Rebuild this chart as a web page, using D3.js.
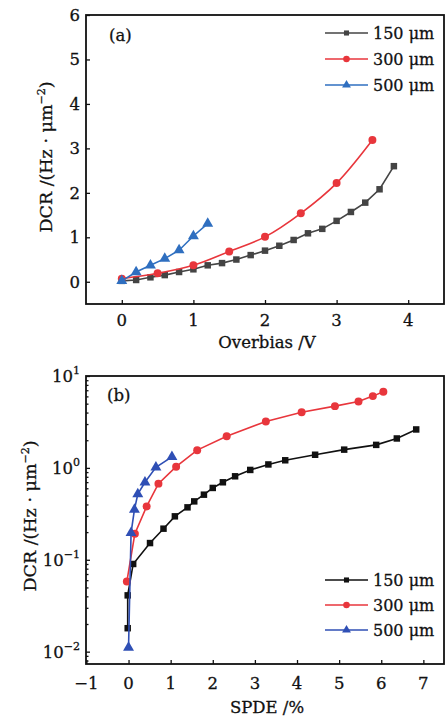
<!DOCTYPE html>
<html><head><meta charset="utf-8">
<script src="https://cdn.jsdelivr.net/npm/d3@7"></script>
<style>
html,body{margin:0;padding:0;background:#fff;}
svg text{font-family:"DejaVu Serif",serif;fill:#111;stroke:#111;stroke-width:0.3;}
</style></head>
<body><svg id="c" width="446" height="717"></svg>
<script>
// ---------- data ----------
const seriesNames = ["150 μm", "300 μm", "500 μm"];
// Panel (a): Overbias (V) vs DCR
const a150x = [0,0.2,0.4,0.6,0.8,1.0,1.2,1.4,1.6,1.8,2.0,2.2,2.4,2.6,2.8,3.0,3.2,3.4,3.6,3.8];
const a150y = [0.02,0.04,0.10,0.15,0.22,0.28,0.37,0.42,0.50,0.60,0.70,0.81,0.94,1.09,1.19,1.37,1.57,1.78,2.08,2.60];
const a300x = [0,0.5,1.0,1.5,2.0,2.5,3.0,3.5];
const a300y = [0.07,0.19,0.37,0.68,1.01,1.54,2.22,3.19];
const a500x = [0,0.2,0.4,0.6,0.8,1.0,1.2];
const a500y = [0.02,0.22,0.37,0.52,0.71,1.03,1.31];
// Panel (b): SPDE (%) vs DCR (log)
const b150x = [-0.02,-0.02,0.11,0.51,0.83,1.10,1.40,1.56,1.79,2.00,2.24,2.53,2.89,3.32,3.72,4.43,5.12,5.88,6.37,6.83];
const b150y = [0.018,0.041,0.090,0.152,0.218,0.297,0.372,0.432,0.511,0.605,0.697,0.81,0.95,1.09,1.21,1.39,1.58,1.78,2.09,2.62];
const b300x = [-0.04,0.15,0.43,0.71,1.13,1.63,2.33,3.26,4.11,4.90,5.46,5.80,6.05];
const b300y = [0.058,0.192,0.381,0.674,1.03,1.56,2.21,3.20,4.04,4.70,5.28,6.04,6.75];
const b500x = [0.0,0.06,0.14,0.22,0.39,0.65,1.03];
const b500y = [0.0111,0.196,0.351,0.52,0.697,1.016,1.32];
const aXTicks = [0,1,2,3,4];
const aYTicks = [0,1,2,3,4,5,6];
const bXTicks = [-1,0,1,2,3,4,5,6,7];
const bYTicks = [0.01,0.1,1,10];
const bYExp = ["−2","−1","0","1"];

const colorsA = ["#444444","#e8363c","#2f6fc0"];
const colorsB = ["#111111","#e8363c","#2f4fb5"];
const shapes = [d3.symbolSquare, d3.symbolCircle, d3.symbolTriangle];

const svg = d3.select("#c");
const L = 86, R = 444;

function drawPanel(o){
  const g = svg.append("g");
  const x = o.x, y = o.y;
  const [y0,y1] = y.range(); // bottom, top
  g.append("g").attr("transform",`translate(0,${y0})`)
    .call(d3.axisTop(x).tickValues(o.xTicks).tickSize(4).tickFormat(""));
  g.append("g").attr("transform",`translate(${L},0)`)
    .call(d3.axisRight(y).tickValues(o.yTicks).tickSize(4).tickFormat(""));
  if (o.minor) {
    g.append("g").attr("transform",`translate(${L},0)`)
      .call(d3.axisRight(y).tickValues(o.minor).tickSize(2.5).tickFormat(""));
  }
  g.selectAll(".domain").remove();
  g.selectAll(".tick line").attr("stroke","#111").attr("stroke-width",1.3);
  g.append("rect").attr("x",L).attr("y",y1).attr("width",R-L).attr("height",y0-y1)
    .attr("fill","none").attr("stroke","#111").attr("stroke-width",1.8);
  g.selectAll(".xl").data(o.xTicks).enter().append("text")
    .attr("x",d=>x(d)).attr("y",y0+o.xlabOff).attr("text-anchor","middle")
    .attr("font-size",16.5).text(d=>d<0?"−"+Math.abs(d):d);
  o.yLabel(g, y);
  o.series.forEach((s,i)=>{
    const pts = s.xs.map((v,k)=>[v,s.ys[k]]);
    const line = d3.line().x(d=>x(d[0])).y(d=>y(d[1])).curve(s.smooth?d3.curveCatmullRom:d3.curveLinear);
    g.append("path").datum(pts).attr("d",line).attr("fill","none")
      .attr("stroke",o.colors[i]).attr("stroke-width",1.6);
    g.selectAll(".m"+i).data(pts).enter().append("path")
      .attr("transform",d=>`translate(${x(d[0])},${y(d[1])})`)
      .attr("d",d3.symbol().type(shapes[i]).size(i===2?52:i===1?50:42))
      .attr("fill",o.colors[i]);
  });
  o.legY.forEach((ly,i)=>{
    g.append("line").attr("x1",325).attr("x2",368).attr("y1",ly).attr("y2",ly)
      .attr("stroke",o.colors[i]).attr("stroke-width",1.6);
    g.append("path").attr("transform",`translate(346.5,${ly})`)
      .attr("d",d3.symbol().type(shapes[i]).size(i===2?34:i===1?34:26)).attr("fill",o.colors[i]);
    g.append("text").attr("x",373).attr("y",ly+6).attr("font-size",16).text(seriesNames[i]);
  });
  g.append("text").attr("x",o.tag[0]).attr("y",o.tag[1]).attr("font-size",16.5).text(o.tagText);
  g.append("text").attr("x",267).attr("y",o.xt).attr("text-anchor","middle").attr("font-size",16.5).text(o.xTitle);
  const yt = g.append("text").attr("transform",`translate(${o.yt[0]},${o.yt[1]}) rotate(-90)`)
    .attr("text-anchor","middle").attr("font-size",17.5);
  yt.append("tspan").text("DCR /(Hz · μm");
  yt.append("tspan").attr("dy",-7).attr("font-size",11).text("−2");
  yt.append("tspan").attr("dy",7).text(")");
}

// Panel (a)
const xA = d3.scaleLinear().domain([-0.5,4.5]).range([L,R]);
const yA = d3.scaleLinear().domain([-0.5,6]).range([304,15]);
drawPanel({
  x:xA, y:yA, xTicks:aXTicks, yTicks:aYTicks, xlabOff:22, colors:colorsA,
  yLabel:(g,y)=>{
    g.selectAll(".yl").data(aYTicks).enter().append("text")
      .attr("x",80).attr("y",d=>y(d)+6).attr("text-anchor","end").attr("font-size",16.5).text(d=>d);
  },
  series:[{xs:a150x,ys:a150y},{xs:a300x,ys:a300y,smooth:true},{xs:a500x,ys:a500y}],
  legY:[33,59,85], tag:[109,41], tagText:"(a)", xt:348, xTitle:"Overbias /V", yt:[52,157]
});

// Panel (b)
const xB = d3.scaleLinear().domain([-1.01,7.49]).range([L,R]);
const yB = d3.scaleLog().domain([0.00734,10]).range([664,376]);
const minorB = [];
[0.001,0.01,0.1,1].forEach(dec=>{for(let m=2;m<=9;m++){const v=dec*m; if(v>0.00734&&v<10) minorB.push(v);}});
drawPanel({
  x:xB, y:yB, xTicks:bXTicks, yTicks:bYTicks, minor:minorB, xlabOff:25, colors:colorsB,
  yLabel:(g,y)=>{
    bYTicks.forEach((d,i)=>{
      const t = g.append("text").attr("x",80).attr("y",y(d)+6).attr("text-anchor","end").attr("font-size",16.5);
      t.append("tspan").text("10");
      t.append("tspan").attr("dy",-8).attr("font-size",11).text(bYExp[i]);
    });
  },
  series:[{xs:b150x,ys:b150y},{xs:b300x,ys:b300y},{xs:b500x,ys:b500y}],
  legY:[580,605,630], tag:[107,401], tagText:"(b)", xt:713, xTitle:"SPDE /%", yt:[36,516]
});
</script></body></html>
